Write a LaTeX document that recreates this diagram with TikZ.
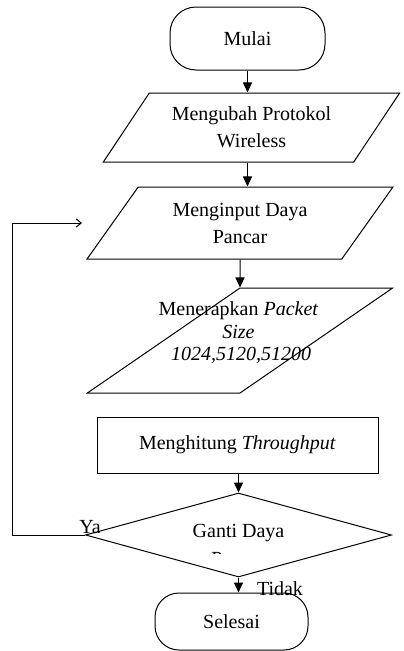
\documentclass[tikz,border=0pt]{standalone}
\usepackage{fontspec}
\setmainfont{Liberation Serif}
\usetikzlibrary{shapes.geometric,arrows.meta}
\tikzset{
  terminal/.style={draw,rectangle,rounded corners=26pt,line width=1pt,inner sep=0pt},
  iobox/.style={draw,trapezium,trapezium stretches=true,line width=1pt,inner sep=0pt,align=center},
  procbox/.style={draw,rectangle,line width=1pt,inner sep=0pt},
  decision/.style={draw,diamond,line width=1pt,inner sep=0pt},
  flow/.style={line width=1pt,-{Triangle[length=10pt,width=9pt]}},
  loopback/.style={line width=1pt,-{Straight Barb[length=5pt,width=8pt]}}
}
\begin{document}
\begin{tikzpicture}[x=1pt,y=-1pt,font=\fontsize{20}{27}\selectfont]
 \useasboundingbox (0,0) rectangle (404,651);
 % shapes
 \node[terminal,minimum width=155pt,minimum height=63pt] (mulai) at (247.5,38.5) {Mulai};
 \node[iobox,trapezium left angle=49,trapezium right angle=131,minimum width=297pt,minimum height=69pt] (ubah) at (251.5,127.5) {Mengubah Protokol\\Wireless};
 \node[iobox,trapezium left angle=50,trapezium right angle=130,minimum width=306pt,minimum height=72pt] (input) at (240,223) {Menginput Daya\\Pancar};
 \node[iobox,trapezium left angle=60,trapezium right angle=120,minimum width=306pt,minimum height=105pt] (terap) at (240,340.5) {\strut};
 \node[align=center,font=\fontsize{20}{22.5}\selectfont] (terapteks) at (238.5,333) {Menerapkan \textit{Packet}\\\textit{Size}\\\ \textit{1024,5120,51200}};
 \node[procbox,minimum width=281pt,minimum height=56pt] (hitung) at (237.5,445) {Menghitung \textit{Throughput}};
 \node[decision,minimum width=306pt,minimum height=84pt] (ganti) at (238.5,535) {\strut};
 \node[anchor=base] (gantiteks) at (238.5,537) {Ganti Daya};
 \begin{scope}
  \clip (150,540) rectangle (330,553.5);
  \node[anchor=base] (gantisisa) at (238.5,565) {Pancar};
 \end{scope}
 \node[terminal,rounded corners=24pt,minimum width=153pt,minimum height=57pt] (selesai) at (231.5,621.5) {Selesai};
 % labels
 \node (ya) at (90,527) {Ya};
 \node (tidak) at (280,589) {Tidak};
 % connectors
 \draw[flow] (mulai.south) -- (mulai.south |- ubah.north);
 \draw[flow] (mulai.south |- ubah.south) -- (mulai.south |- input.north);
 \draw[flow] (input.south) -- (terap.north);
 \draw[flow] (ganti.north |- hitung.south) -- (ganti.north);
 \draw[flow] (ganti.south) -- (ganti.south |- selesai.north);
 \coordinate (kiri) at (12,535);
 \coordinate (balik) at (82,223);
 \draw[loopback] (ganti.west) -- (kiri) |- (balik);
\end{tikzpicture}
\end{document}
